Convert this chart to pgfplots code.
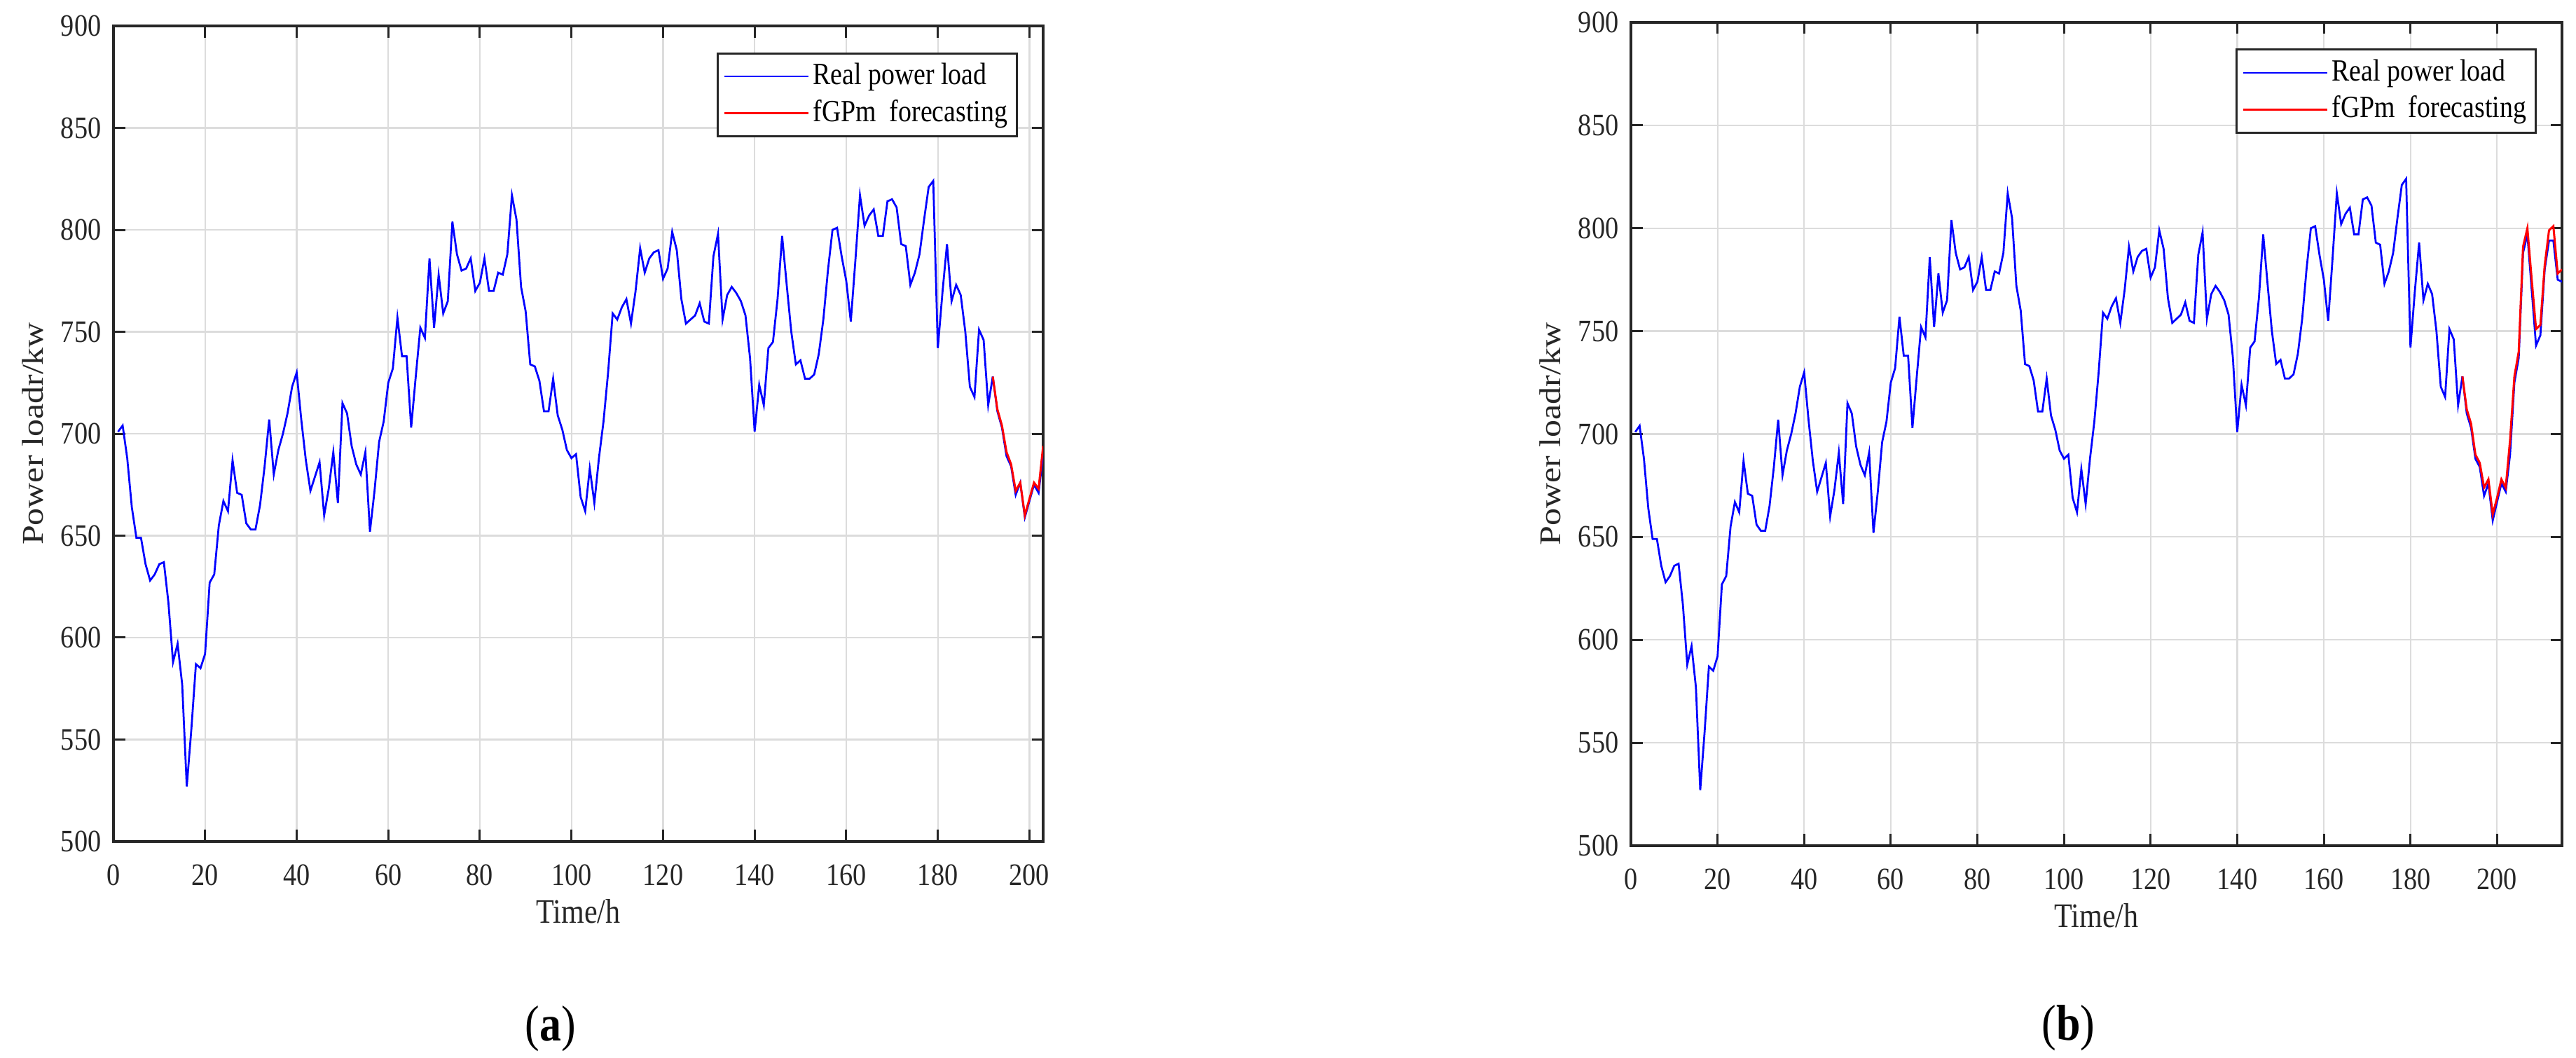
\documentclass[border=0pt]{standalone}
\usepackage{fontspec}
\setmainfont{Liberation Serif}[FakeStretch=0.86]
\newfontfamily\ylabfont{Liberation Serif}
\usepackage{graphicx}
\usepackage{pgfplots}
\usepackage{pgfplotstable}
\pgfplotsset{compat=1.18}

\definecolor{axisgray}{HTML}{262626}
\definecolor{gridgray}{HTML}{DCDCDC}

\pgfplotstableread{
x y
1 701
2 704
3 688
4 664
5 649
6 649
7 636
8 628
9 631
10 636
11 637
12 617
13 588
14 597
15 577
16 527
17 555
18 587
19 585
20 592
21 627
22 631
23 655
24 667
25 662
26 687
27 671
28 670
29 656
30 653
31 653
32 665
33 684
34 707
35 680
36 692
37 700
38 710
39 723
40 730
41 707
42 687
43 672
44 679
45 686
46 660
47 673
48 691
49 666
50 715
51 710
52 694
53 685
54 680
55 691
56 652
57 672
58 696
59 706
60 725
61 732
62 757
63 738
64 738
65 703
66 728
67 752
68 747
69 786
70 752
71 778
72 759
73 765
74 804
75 788
76 780
77 781
78 786
79 770
80 774
81 786
82 770
83 770
84 779
85 778
86 788
87 817
88 805
89 772
90 760
91 734
92 733
93 726
94 711
95 711
96 727
97 709
98 702
99 692
100 688
101 690
102 669
103 662
104 683
105 666
106 688
107 706
108 730
109 759
110 756
111 762
112 766
113 754
114 770
115 791
116 779
117 786
118 789
119 790
120 776
121 781
122 799
123 790
124 766
125 754
126 756
127 758
128 764
129 755
130 754
131 787
132 798
133 756
134 768
135 772
136 769
137 765
138 758
139 737
140 701
141 724
142 714
143 742
144 745
145 766
146 797
147 773
148 750
149 734
150 736
151 727
152 727
153 729
154 739
155 756
156 780
157 800
158 801
159 787
160 775
161 755
162 785
163 817
164 802
165 807
166 810
167 797
168 797
169 814
170 815
171 811
172 793
173 792
174 773
175 779
176 788
177 805
178 821
179 824
180 742
181 769
182 793
183 765
184 773
185 768
186 750
187 723
188 718
189 751
190 746
191 714
192 728
}\common

\pgfplotstableread{
x y
192 728
193 711
194 703
195 689
196 684
197 670
198 676
199 659
200 667
201 675
202 671
203 690
}\blueA

\pgfplotstableread{
x y
192 728
193 712
194 704
195 691
196 685
197 672
198 676
199 660
200 668
201 676
202 673
203 694
}\redA

\pgfplotstableread{
x y
192 728
193 710
194 703
195 688
196 684
197 670
198 676
199 658
200 667
201 676
202 672
203 690
204 725
205 737
206 788
207 797
208 770
209 743
210 748
211 780
212 794
213 794
214 775
215 774
}\blueB

\pgfplotstableread{
x y
192 728
193 712
194 705
195 690
196 686
197 674
198 678
199 661
200 669
201 678
202 674
203 697
204 728
205 740
206 791
207 800
208 775
209 751
210 753
211 782
212 799
213 801
214 778
215 780
}\redB

\pgfplotsset{
  myaxis/.style={
    scale only axis,
    anchor=south west,
    clip mode=individual,
    xmin=0, ymin=500, ymax=900,
    xtick={0,20,...,200}, ytick={500,550,...,900},
    grid=major,
    major grid style={gridgray, line width=0.45pt},
    axis line style={axisgray, line width=0.8pt},
    tick style={axisgray, line width=0.6pt},
    tick align=inside, major tick length=3.3pt,
    /pgf/number format/assume math mode=true,
    ticklabel style={font=\fontsize{8.9}{10}\selectfont, text=axisgray},
    xticklabel style={yshift=-3pt},
    every axis x label/.style={at={(axis description cs:0.5,0)}, anchor=base, yshift=-23.3pt,
      font=\fontsize{9.8}{11}\selectfont, text=axisgray},
    every axis y label/.style={at={(axis description cs:-0.0754,0.5)}, anchor=base, rotate=90,
      font=\fontsize{10}{11}\ylabfont, text=axisgray},
    xlabel={Time/h},
    ylabel={\scalebox{1}[0.86]{Power loadr/kw}},
    legend cell align=left,
    legend image code/.code={\draw[#1] (0pt,0pt) -- (24pt,0pt);},
    legend style={at={(axis description cs:1,1)}, anchor=north east,
      xshift=-7.3pt, yshift=-7.5pt, draw=axisgray, line width=0.6pt,
      font=\fontsize{8.8}{9.5}\selectfont, text=black,
      inner xsep=1.6pt, inner ysep=1.8pt, row sep=0.8pt, column sep=0pt,
      nodes={inner sep=1pt}},
  },
  blueline/.style={color={rgb,255:red,0;green,0;blue,255}, line width=0.55pt},
  redline/.style={color={rgb,255:red,255;green,0;blue,0}, line width=0.6pt},
}

\begin{document}
\begin{tikzpicture}
\path[use as bounding box] (0pt,0pt) rectangle (735.4pt,302pt);

\begin{axis}[myaxis, at={(32.4pt,61.8pt)}, width=265.4pt, height=232.8pt, xmax=203]
\addplot[blueline] table[x=x,y=y] {\common};
\addlegendentry{Real power load}
\addplot[blueline, forget plot] table[x=x,y=y] {\blueA};
\addplot[redline] table[x=x,y=y] {\redA};
\addlegendentry{fGPm~~forecasting}
\node[anchor=base, font=\fontsize{14.4}{16}\selectfont, text=black] at (axis description cs:0.470,-0.2440) {(\textbf{a})};
\end{axis}

\begin{axis}[myaxis, at={(465.6pt,60.6pt)}, width=265.8pt, height=235pt, xmax=215]
\addplot[blueline] table[x=x,y=y] {\common};
\addlegendentry{Real power load}
\addplot[blueline, forget plot] table[x=x,y=y] {\blueB};
\addplot[redline] table[x=x,y=y] {\redB};
\addlegendentry{fGPm~~forecasting}
\node[anchor=base, font=\fontsize{14.4}{16}\selectfont, text=black] at (axis description cs:0.470,-0.2365) {(\textbf{b})};
\end{axis}
\end{tikzpicture}
\end{document}
